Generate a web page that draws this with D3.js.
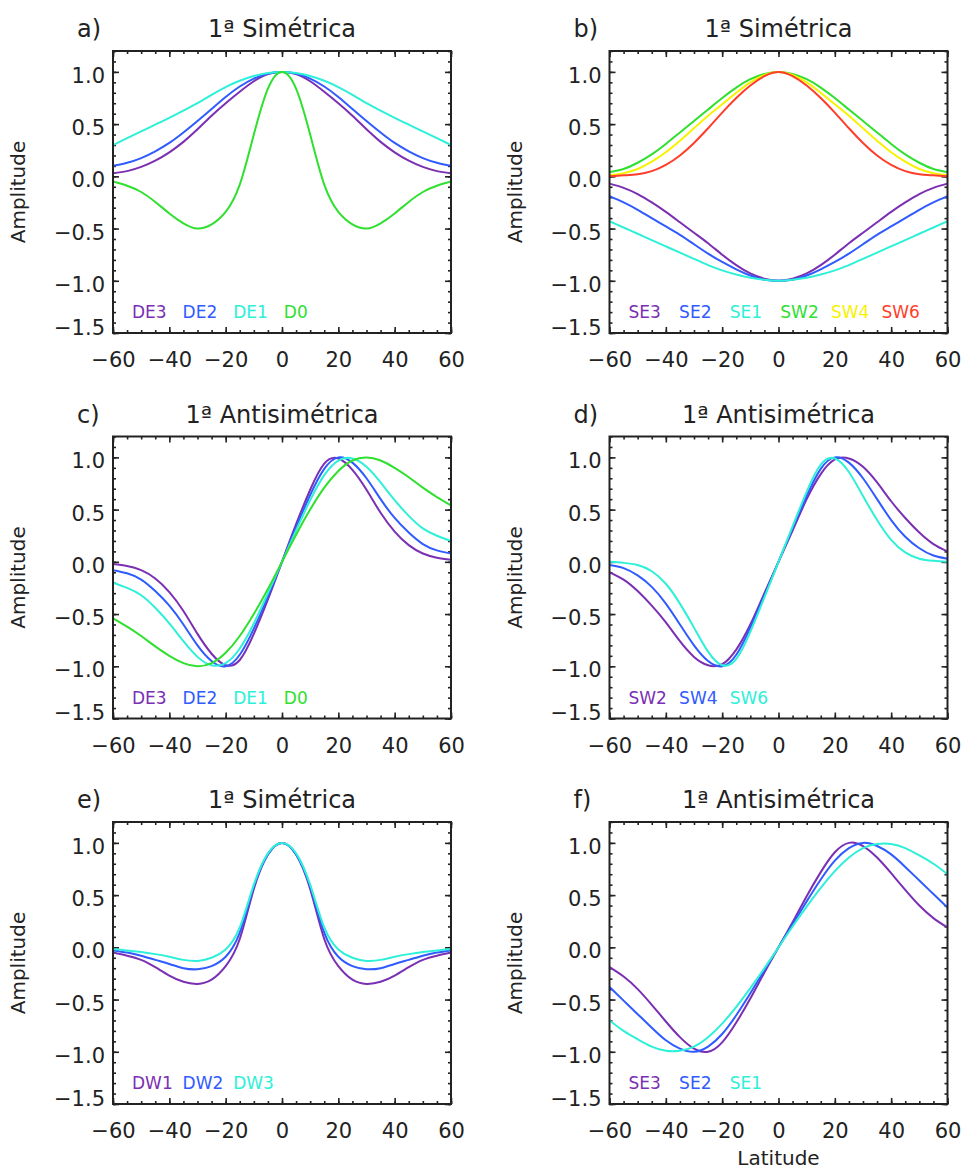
<!DOCTYPE html>
<html>
<head>
<meta charset="utf-8">
<script src="https://cdn.jsdelivr.net/npm/d3@7"></script>
<style>
  body { margin: 0; background: #fff; }
  svg { display: block; font-family: "DejaVu Sans", Verdana, sans-serif; }
</style>
</head>
<body>
<div id="chart"></div>
<script>
// latitude grid (degrees)
var lat = [-60,-55,-50,-45,-40,-35,-30,-25,-20,-15,-10,-5,0,5,10,15,20,25,30,35,40,45,50,55,60];

// a) 1a Simetrica
var a_DE3 = [0.03,0.05,0.09,0.15,0.23,0.33,0.45,0.58,0.70,0.81,0.91,0.98,1,0.98,0.91,0.81,0.70,0.58,0.45,0.33,0.23,0.15,0.09,0.05,0.03];
var a_DE2 = [0.10,0.13,0.175,0.24,0.32,0.42,0.53,0.645,0.76,0.86,0.935,0.985,1,0.985,0.935,0.86,0.76,0.645,0.53,0.42,0.32,0.24,0.175,0.13,0.10];
var a_DE1 = [0.30,0.365,0.43,0.495,0.56,0.63,0.70,0.78,0.855,0.915,0.96,0.99,1,0.99,0.96,0.915,0.855,0.78,0.70,0.63,0.56,0.495,0.43,0.365,0.30];
var a_D0  = [-0.05,-0.09,-0.15,-0.245,-0.355,-0.45,-0.50,-0.46,-0.34,-0.08,0.40,0.84,1,0.84,0.40,-0.08,-0.34,-0.46,-0.50,-0.45,-0.355,-0.245,-0.15,-0.09,-0.05];

// b) 1a Simetrica
var b_SE3 = [-0.07,-0.11,-0.17,-0.25,-0.34,-0.44,-0.54,-0.64,-0.75,-0.85,-0.93,-0.98,-1,-0.98,-0.93,-0.85,-0.75,-0.64,-0.54,-0.44,-0.34,-0.25,-0.17,-0.11,-0.07];
var b_SE2 = [-0.19,-0.25,-0.32,-0.40,-0.48,-0.56,-0.65,-0.74,-0.82,-0.89,-0.95,-0.99,-1,-0.99,-0.95,-0.89,-0.82,-0.74,-0.65,-0.56,-0.48,-0.40,-0.32,-0.25,-0.19];
var b_SE1 = [-0.43,-0.49,-0.55,-0.61,-0.67,-0.73,-0.79,-0.85,-0.90,-0.94,-0.97,-0.99,-1,-0.99,-0.97,-0.94,-0.90,-0.85,-0.79,-0.73,-0.67,-0.61,-0.55,-0.49,-0.43];
var b_SW2 = [0.04,0.07,0.13,0.21,0.31,0.42,0.53,0.64,0.75,0.85,0.93,0.98,1,0.98,0.93,0.85,0.75,0.64,0.53,0.42,0.31,0.21,0.13,0.07,0.04];
var b_SW4 = [0.01,0.03,0.07,0.14,0.23,0.34,0.46,0.58,0.69,0.80,0.90,0.97,1,0.97,0.90,0.80,0.69,0.58,0.46,0.34,0.23,0.14,0.07,0.03,0.01];
var b_SW6 = [0,0.01,0.02,0.05,0.11,0.20,0.32,0.46,0.61,0.75,0.87,0.96,1,0.96,0.87,0.75,0.61,0.46,0.32,0.20,0.11,0.05,0.02,0.01,0];

// c) 1a Antisimetrica
var c_DE3 = [-0.02,-0.04,-0.08,-0.16,-0.29,-0.47,-0.69,-0.88,-0.99,-0.94,-0.69,-0.36,0,0.36,0.69,0.94,0.99,0.88,0.69,0.47,0.29,0.16,0.08,0.04,0.02];
var c_DE2 = [-0.08,-0.11,-0.17,-0.28,-0.42,-0.60,-0.80,-0.95,-1,-0.89,-0.64,-0.33,0,0.33,0.64,0.89,1,0.95,0.80,0.60,0.42,0.28,0.17,0.11,0.08];
var c_DE1 = [-0.20,-0.25,-0.32,-0.44,-0.59,-0.76,-0.91,-0.99,-0.97,-0.83,-0.59,-0.30,0,0.30,0.59,0.83,0.97,0.99,0.91,0.76,0.59,0.44,0.32,0.25,0.20];
var c_D0  = [-0.54,-0.62,-0.71,-0.81,-0.90,-0.97,-1,-0.97,-0.87,-0.71,-0.50,-0.26,0,0.26,0.50,0.71,0.87,0.97,1,0.97,0.90,0.81,0.71,0.62,0.54];

// d) 1a Antisimetrica
var d_SW2 = [-0.10,-0.17,-0.28,-0.42,-0.58,-0.76,-0.91,-0.99,-0.98,-0.84,-0.60,-0.30,0,0.30,0.60,0.84,0.98,0.99,0.91,0.76,0.58,0.42,0.28,0.17,0.10];
var d_SW4 = [-0.03,-0.06,-0.13,-0.24,-0.40,-0.60,-0.80,-0.95,-1,-0.89,-0.63,-0.32,0,0.32,0.63,0.89,1,0.95,0.80,0.60,0.40,0.24,0.13,0.06,0.03];
var d_SW6 = [0,-0.01,-0.03,-0.09,-0.21,-0.40,-0.63,-0.86,-0.99,-0.93,-0.67,-0.34,0,0.34,0.67,0.93,0.99,0.86,0.63,0.40,0.21,0.09,0.03,0.01,0];

// e) 1a Simetrica
var e_DW1 = [-0.05,-0.08,-0.12,-0.19,-0.27,-0.33,-0.35,-0.31,-0.18,0.08,0.56,0.89,1,0.89,0.56,0.08,-0.18,-0.31,-0.35,-0.33,-0.27,-0.19,-0.12,-0.08,-0.05];
var e_DW2 = [-0.03,-0.05,-0.08,-0.12,-0.16,-0.20,-0.21,-0.18,-0.09,0.14,0.58,0.89,1,0.89,0.58,0.14,-0.09,-0.18,-0.21,-0.20,-0.16,-0.12,-0.08,-0.05,-0.03];
var e_DW3 = [-0.015,-0.03,-0.045,-0.065,-0.09,-0.12,-0.13,-0.10,-0.02,0.19,0.60,0.90,1,0.90,0.60,0.19,-0.02,-0.10,-0.13,-0.12,-0.09,-0.065,-0.045,-0.03,-0.015];

// f) 1a Antisimetrica
var f_SE3 = [-0.19,-0.28,-0.40,-0.55,-0.71,-0.86,-0.97,-1,-0.91,-0.72,-0.49,-0.24,0,0.24,0.49,0.72,0.91,1,0.97,0.86,0.71,0.55,0.40,0.28,0.19];
var f_SE2 = [-0.38,-0.51,-0.64,-0.77,-0.89,-0.97,-1,-0.95,-0.83,-0.65,-0.44,-0.22,0,0.22,0.44,0.65,0.83,0.95,1,0.97,0.89,0.77,0.64,0.51,0.38];
var f_SE1 = [-0.70,-0.80,-0.88,-0.95,-0.99,-0.99,-0.95,-0.86,-0.73,-0.57,-0.39,-0.20,0,0.20,0.39,0.57,0.73,0.86,0.95,0.99,0.99,0.95,0.88,0.80,0.70];

var xTicks = [-60,-40,-20,0,20,40,60];
var yTicks = [-1.5,-1.0,-0.5,0.0,0.5,1.0];

var purple = "#7b2fb3", blue = "#2f5bff", cyan = "#2ef0d8",
    green = "#2fe02f", yellow = "#f7f200", red = "#ff3d2b";

var panels = [
  {tag: "a)", title: "1ª Simétrica", col: 0, row: 0, series: [
    ["DE3", a_DE3, purple], ["DE2", a_DE2, blue], ["DE1", a_DE1, cyan], ["D0", a_D0, green]]},
  {tag: "b)", title: "1ª Simétrica", col: 1, row: 0, series: [
    ["SE3", b_SE3, purple], ["SE2", b_SE2, blue], ["SE1", b_SE1, cyan],
    ["SW2", b_SW2, green], ["SW4", b_SW4, yellow], ["SW6", b_SW6, red]]},
  {tag: "c)", title: "1ª Antisimétrica", col: 0, row: 1, series: [
    ["DE3", c_DE3, purple], ["DE2", c_DE2, blue], ["DE1", c_DE1, cyan], ["D0", c_D0, green]]},
  {tag: "d)", title: "1ª Antisimétrica", col: 1, row: 1, series: [
    ["SW2", d_SW2, purple], ["SW4", d_SW4, blue], ["SW6", d_SW6, cyan]]},
  {tag: "e)", title: "1ª Simétrica", col: 0, row: 2, series: [
    ["DW1", e_DW1, purple], ["DW2", e_DW2, blue], ["DW3", e_DW3, cyan]]},
  {tag: "f)", title: "1ª Antisimétrica", col: 1, row: 2, series: [
    ["SE3", f_SE3, purple], ["SE2", f_SE2, blue], ["SE1", f_SE1, cyan]], xlabel: "Latitude"}
];

var W = 964, H = 1172;
var colLeft = [113, 609.5], rowTop = [51, 436.5, 822];
var pw = 338, ph = 282;

var svg = d3.select("#chart").append("svg")
    .attr("width", W)
    .attr("height", H);

svg.append("defs").selectAll("clipPath")
    .data(panels)
    .enter()
    .append("clipPath")
        .attr("id", function(d, i) { return "clip" + i; })
    .append("rect")
        .attr("width", pw)
        .attr("height", ph);

var fmtY = d3.format(".1f");

panels.forEach(function(p, i) {
    var g = svg.append("g")
        .attr("transform", "translate(" + colLeft[p.col] + "," + rowTop[p.row] + ")");

    var x = d3.scaleLinear().domain([-60, 60]).range([0, pw]);
    var y = d3.scaleLinear().domain([-1.5, 1.2]).range([ph, 0]);

    // minor + major ticks on all four sides, pointing inward
    var xMinor = d3.range(-60, 61, 5), yMinor = d3.range(-15, 13).map(function(v) { return v / 10; });
    g.append("g").attr("transform", "translate(0," + ph + ")")
        .call(d3.axisBottom(x).tickValues(xMinor).tickSize(-3).tickFormat(""));
    g.append("g")
        .call(d3.axisTop(x).tickValues(xMinor).tickSize(-3).tickFormat(""));
    g.append("g")
        .call(d3.axisLeft(y).tickValues(yMinor).tickSize(-3).tickFormat(""));
    g.append("g").attr("transform", "translate(" + pw + ",0)")
        .call(d3.axisRight(y).tickValues(yMinor).tickSize(-3).tickFormat(""));

    var xb = g.append("g").attr("transform", "translate(0," + ph + ")")
        .call(d3.axisBottom(x).tickValues(xTicks).tickSize(-6).tickPadding(0).tickFormat(d3.format("d")));
    g.append("g")
        .call(d3.axisTop(x).tickValues(xTicks).tickSize(-6).tickFormat(""));
    var yl = g.append("g")
        .call(d3.axisLeft(y).tickValues(yTicks).tickSize(-6).tickPadding(0).tickFormat(fmtY));
    g.append("g").attr("transform", "translate(" + pw + ",0)")
        .call(d3.axisRight(y).tickValues(yTicks).tickSize(-6).tickFormat(""));

    g.selectAll(".domain").remove();
    g.selectAll(".tick line").attr("stroke", "#222").attr("stroke-width", 1.6);

    xb.selectAll(".tick text")
        .attr("y", 34).attr("dy", null)
        .attr("font-size", 21)
        .attr("font-family", "DejaVu Sans, sans-serif")
        .attr("fill", "#222");
    yl.selectAll(".tick text")
        .attr("x", -8).attr("dy", function(d) { return d === -1.5 ? "0.05em" : "0.5em"; })
        .attr("font-size", 21)
        .attr("font-family", "DejaVu Sans, sans-serif")
        .attr("fill", "#222");

    // curves
    var line = d3.line()
        .x(function(d, k) { return x(lat[k]); })
        .y(function(d) { return y(d); })
        .curve(d3.curveNatural);

    g.append("g")
        .attr("clip-path", "url(#clip" + i + ")")
        .selectAll("path")
        .data(p.series)
        .enter()
        .append("path")
            .attr("d", function(s) { return line(s[1]); })
            .attr("fill", "none")
            .attr("stroke", function(s) { return s[2]; })
            .attr("stroke-width", 2);

    // frame
    g.append("rect")
        .attr("width", pw)
        .attr("height", ph)
        .attr("fill", "none")
        .attr("stroke", "#222")
        .attr("stroke-width", 2);

    // legend
    g.selectAll(".legend_text")
        .data(p.series)
        .enter()
        .append("text")
            .attr("class", "legend_text")
            .attr("x", function(s, k) { return 19 + k * 50.6; })
            .attr("y", ph - 15)
            .attr("font-size", 17)
            .attr("fill", function(s) { return s[2]; })
            .text(function(s) { return s[0]; });

    // titles
    g.append("text")
        .attr("x", -36)
        .attr("y", -14)
        .attr("font-size", 24)
        .attr("fill", "#222")
        .text(p.tag);
    g.append("text")
        .attr("x", pw / 2)
        .attr("y", -14)
        .attr("text-anchor", "middle")
        .attr("font-size", 24)
        .attr("fill", "#222")
        .text(p.title);

    g.append("text")
        .attr("transform", "translate(-88," + (ph / 2) + ") rotate(-90)")
        .attr("text-anchor", "middle")
        .attr("font-size", 20)
        .attr("fill", "#222")
        .text("Amplitude");

    if (p.xlabel) {
        g.append("text")
            .attr("x", pw / 2)
            .attr("y", ph + 61)
            .attr("text-anchor", "middle")
            .attr("font-size", 20)
            .attr("fill", "#222")
            .text(p.xlabel);
    }
});
</script>
</body>
</html>
